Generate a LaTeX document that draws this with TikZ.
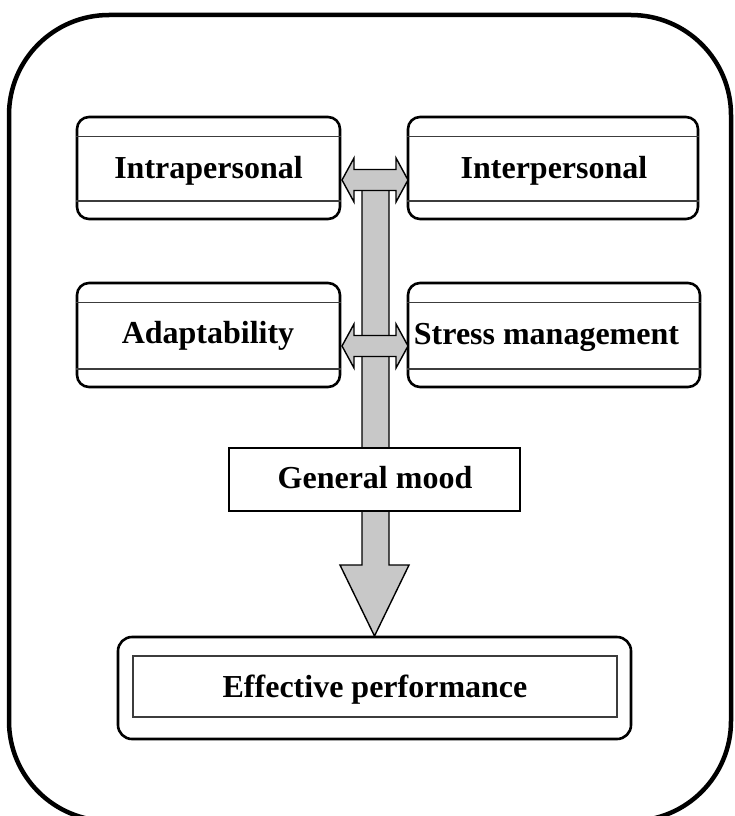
\documentclass[tikz,border=0pt]{standalone}
\usepackage{fontspec}
\setmainfont{Liberation Serif}
\usetikzlibrary{calc}
\definecolor{arrowgray}{RGB}{200,200,200}
\definecolor{linegray}{RGB}{60,60,60}
\tikzset{
  rbox/.style={draw, line width=2.6, rounded corners=12, inner sep=0pt},
  sepline/.style={draw=linegray, line width=1.4},
  lbl/.style={anchor=base, inner sep=0pt, font=\fontsize{32}{38}\selectfont\bfseries},
  arrowfill/.style={draw, line width=1.4, fill=arrowgray, line join=miter},
  pics/dblarrow/.style={code={
    \path[arrowfill] (-33,0) -- (-21,-22) -- (-21,-10.5) -- (21,-10.5) -- (21,-22) -- (33,0)
      -- (21,22) -- (21,10.5) -- (-21,10.5) -- (-21,22) -- cycle;
  }}
}
\begin{document}
\begin{tikzpicture}[x=1pt, y=-1pt]
\useasboundingbox (0,0) rectangle (735,816);
% outer frame
\draw[line width=4.5, rounded corners=100] (9,15) rectangle (731,821);

% four rounded boxes
\node[rbox, minimum width=263, minimum height=102] (intra) at (208.5,168) {};
\node[rbox, minimum width=290, minimum height=102] (inter) at (553,168) {};
\node[rbox, minimum width=263, minimum height=104] (adapt) at (208.5,335) {};
\node[rbox, minimum width=292, minimum height=104] (stress) at (554,335) {};
\foreach \b in {intra, inter, adapt, stress}{
  \draw[sepline] ($(\b.north west)+(0,20.5)$) -- ($(\b.north east)+(0,20.5)$);
  \draw[sepline] ($(\b.south west)+(0,-19.5)$) -- ($(\b.south east)+(0,-19.5)$);
}

% vertical arrow
\coordinate (shafttop) at (375.5,180);
\coordinate (tip) at (374.5,636);
\path[arrowfill] ($(shafttop)+(-13.5,0)$) -- ($(shafttop)+(13.5,0)$) -- (389,565) -- (409,565)
  -- (tip) -- (340,565) -- (362,565) -- cycle;

% double arrows
\pic at (375,180) {dblarrow};
\pic at (375,346) {dblarrow};

% general mood
\node[draw, fill=white, line width=1.4, inner sep=0pt, minimum width=291, minimum height=63] (mood) at (374.5,479.5) {};

% effective performance
\node[rbox, rounded corners=14, minimum width=513, minimum height=102] (eff) at (374.5,688) {};
\node[draw=linegray, line width=1.4, inner sep=0pt, minimum width=484, minimum height=61] (effin) at (375,686.5) {};

% labels
\node[lbl] (tintra) at (208.5,178) {Intrapersonal};
\node[lbl] (tinter) at (554,178) {Interpersonal};
\node[lbl] (tadapt) at (208,343) {Adaptability};
\node[lbl] (tstress) at (546.5,344) {Stress management};
\node[lbl] (tmood) at (375,488) {General mood};
\node[lbl] (teff) at (375,697) {Effective performance};
\end{tikzpicture}
\end{document}
